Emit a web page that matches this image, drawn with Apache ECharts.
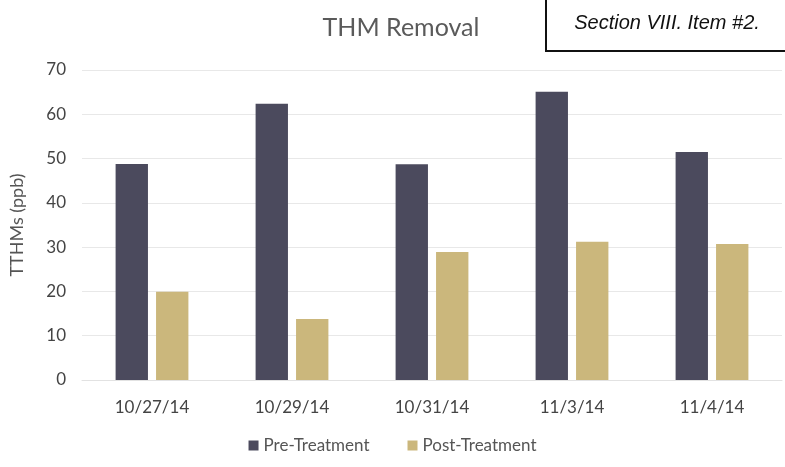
<!DOCTYPE html>
<html>
<head>
<meta charset="utf-8">
<script src="https://cdn.jsdelivr.net/npm/echarts@6/dist/echarts.min.js"></script>
<style>
  html, body { margin: 0; padding: 0; background: #fff; }
  #report { width: 785px; height: 467px; }
</style>
</head>
<body>
<div id="report"></div>
<script>
var dates = ['10/27/14', '10/29/14', '10/31/14', '11/3/14', '11/4/14'];
var preTreatment = [48.8, 62.4, 48.7, 65.1, 51.5];
var postTreatment = [19.9, 13.8, 28.9, 31.2, 30.7];
var yTicks = [0, 10, 20, 30, 40, 50, 60, 70];

var myChart = echarts.init(document.getElementById('report'));
var font = 'Lato, "Open Sans", sans-serif';

var option = {
    title: {
        text: 'THM Removal',
        left: 396,
        top: 10,
        textAlign: 'center',
        textStyle: { fontFamily: font, fontSize: 25, fontWeight: 'normal', color: '#5a5a5a' }
    },
    // the stamp box in the corner
    graphic: [{
        type: 'rect',
        shape: { x: 546, y: -5, width: 250, height: 56 },
        style: { fill: '#fff', stroke: '#111', lineWidth: 2 }
    }, {
        type: 'text',
        x: 667, y: 23,
        style: {
            text: 'Section VIII. Item #2.',
            font: 'italic 20px "Liberation Sans", Arial, sans-serif',
            fill: '#111', textAlign: 'center', textVerticalAlign: 'middle'
        }
    }],
    legend: {
        bottom: 8,
        left: 'center',
        itemWidth: 10,
        itemHeight: 10,
        itemGap: 38,
        icon: 'rect',
        textStyle: { fontFamily: font, fontSize: 17, color: '#555' },
        data: ['Pre-Treatment', 'Post-Treatment']
    },
    grid: {
        left: 82,
        right: 3,
        top: 70,
        bottom: 87
    },
    xAxis: {
        type: 'category',
        data: dates,
        axisLine: { lineStyle: { color: '#e2e2e2' } },
        axisTick: { show: false },
        axisLabel: { fontFamily: font, fontSize: 17, color: '#444', margin: 19 }
    },
    yAxis: {
        type: 'value',
        min: yTicks[0],
        max: yTicks[yTicks.length - 1],
        interval: 10,
        name: 'TTHMs (ppb)',
        nameLocation: 'middle',
        nameGap: 56,
        nameTextStyle: { fontFamily: font, fontSize: 18, color: '#555' },
        axisLabel: { fontFamily: font, fontSize: 17, color: '#444', margin: 16 },
        splitLine: { lineStyle: { color: '#e8e8e8' } }
    },
    series: [{
        name: 'Pre-Treatment',
        type: 'bar',
        data: preTreatment,
        barGap: '25%',
        barCategoryGap: '48%',
        itemStyle: { color: '#4b4a5d' }
    }, {
        name: 'Post-Treatment',
        type: 'bar',
        data: postTreatment,
        itemStyle: { color: '#cbb77c' }
    }]
};
myChart.setOption(option);
</script>
</body>
</html>
